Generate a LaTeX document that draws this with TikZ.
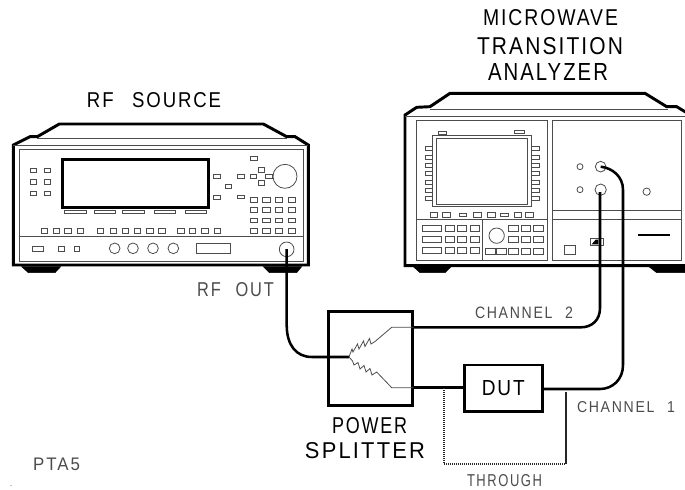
\documentclass[tikz,border=0pt]{standalone}
\usepackage{fontspec}
\usepackage{graphicx}
\setmainfont{Liberation Sans}
\newfontfamily\lblfont[LetterSpace=10]{Liberation Sans}
\newfontfamily\smallfont[LetterSpace=12]{Liberation Sans}
\definecolor{thin}{gray}{0.3}
\definecolor{lab}{gray}{0.3}
\newdimen\pxu \pxu=0.75pt
\newcommand{\fitw}[3]{\resizebox{#1\pxu}{#2\pxu}{#3}}
\tikzset{
  body/.style={draw=black,line width=2.2pt,line join=miter},
  fine/.style={draw=thin,line width=0.6pt},
  key/.style={draw=thin,line width=0.65pt,fill=white},
  cable/.style={draw=black,line width=1.9pt},
  title/.style={font=\lblfont,text=black,inner sep=0pt},
  tiny/.style={font=\smallfont,text=lab,inner sep=0pt},
}
\begin{document}
\begin{tikzpicture}[x=0.75pt,y=-0.75pt]
\useasboundingbox (0,0) rectangle (685,489);
% ---------- RF SOURCE
\begin{scope}[xscale=1/3,yscale=1/3,shift={(0,270)}]
\filldraw[black] (65,530)--(85,548)--(165,548)--(182,530)--cycle;
\filldraw[black] (790,530)--(808,548)--(890,548)--(905,530)--cycle;
\draw[body] (40,525)--(40,165)--(90,140)--(112,140)--(178,102)--(790,102)--(860,140)--(885,140)--(925,165)--(925,525)--cycle;
\draw[fine] (112,145)--(862,145);
\draw[fine] (40,165)--(925,165);
\draw[fine] (58,178) rectangle (910,515);
\draw[fine] (58,440)--(910,440);
\draw[draw=black,line width=1.9pt] (187,208) rectangle (625,352);
\foreach \y in {234,269,304}\foreach \x in {92,133}\draw[key] (\x,\y) rectangle +(18,13);
\foreach \x/\w in {192/66,283/64,367/66,463/64,556/64}\draw[key] (\x,362) rectangle +(\w,8);
\foreach \x in {123,160,194,232,292,330,367,402,440,476,533,568,605,642}\draw[key] (\x,416) rectangle +(19,14);
\foreach \y in {323,353,384,416}\foreach \x in {750,788,826,864}\draw[key] (\x,\y) rectangle +(22,14);
\foreach \x/\y/\w/\h in {640/252/20/14,675/283/20/12,640/316/20/12,712/252/20/14,712/316/22/10,750/198/22/14,750/252/20/12,775/233/18/14,797/252/20/12,775/272/18/14}\draw[key] (\x,\y) rectangle +(\w,\h);
\draw[fine] (855,259) circle (36);
\draw[key] (98,468) rectangle +(32,17);
\draw[key] (176,468) rectangle +(16,16);
\draw[key] (222,468) rectangle +(16,16);
\foreach \x in {344,399,459,520}\draw[fine] (\x,475) circle (16);
\draw[fine] (590,461) rectangle +(102,29);
\draw[fine] (860,478) circle (22);
\end{scope}
% ---------- ANALYZER
\begin{scope}[xscale=1/3,yscale=1/3,shift={(1185,270)}]
\filldraw[black] (55,530)--(75,548)--(150,548)--(168,530)--cycle;
\filldraw[black] (762,530)--(785,548)--(870,548)--(870,530)--cycle;
\draw[body] (875,527)--(30,527)--(30,75)--(65,52)--(105,50)--(165,10)--(750,10)--(815,50)--(845,50)--(875,68);
\draw[fine] (105,57)--(820,57);
\draw[fine] (30,78)--(870,78);
\draw[fine] (65,90) rectangle (458,512);
\draw[fine] (472,90) rectangle (858,512);
\draw[fine] (65,388)--(458,388);
\draw[fine] (263,388)--(263,512);
\draw[fine] (472,360)--(858,360);
\draw[fine] (472,388)--(858,388);
\foreach \y in {170,195,220,245,270,295,320}{\draw[key] (92,\y) rectangle +(26,12);\draw[key] (405,\y) rectangle +(27,12);}
\draw[fine,fill=white] (112,137) rectangle (410,350);
\draw[draw=thin,line width=1.1pt] (124,146) rectangle (398,343);
\foreach \x/\w/\y/\h in {130/24/124/9,358/30/120/9,107/20/368/14,143/22/368/14,193/22/370/10,235/24/368/14,278/24/367/15,317/22/370/10,358/22/367/15,392/22/367/15}\draw[key] (\x,\y) rectangle +(\w,\h);
\foreach \y in {407,440,473}{\draw[key] (82,\y) rectangle +(58,18);\foreach \x in {150,187,225}\draw[key] (\x,\y) rectangle +(28,18);}
\draw[fine] (305,437) circle (23);
\foreach \y in {405,440,475}\foreach \x in {340,378,415}\draw[key] (\x,\y) rectangle +(29,18);
\foreach \x in {272,305}\draw[key] (\x,475) rectangle +(30,18);
\draw[fine] (555,230) circle (9);
\draw[fine] (617,230) circle (16);
\draw[fine] (555,299) circle (9);
\draw[fine] (617,299) circle (17);
\draw[fine] (755,305) circle (11);
\draw[key] (508,465) rectangle +(32,28);
\draw[key] (587,445) rectangle +(37,20);
\fill[black] (590,463)--(610,463)--(610,449)--(602,449)--cycle;
\draw[black,line width=1.1pt] (730,435)--(825,435);
\end{scope}
% ---------- NAMED PARTS
\node[draw=black,line width=2.1pt,minimum width=84*0.75pt,minimum height=94*0.75pt,inner sep=0pt] (split) at (370.3,358.7) {};
\node[draw=black,line width=2pt,minimum width=78*0.75pt,minimum height=46.7*0.75pt,inner sep=0pt,title] (dut) at (503.3,388.3) {\fitw{43}{15}{DUT}};
\coordinate (rfout) at (286.7,249);
\coordinate (ch2) at (600,192);
\coordinate (ch1) at (600.7,166.7);
\coordinate (jn) at (349,357);
\coordinate (hi) at (391.7,327.3);
\coordinate (lo) at (391.7,387.7);
\coordinate (thA) at (444,388);
\coordinate (thB) at (565.7,392);
% cables
\draw[cable] (rfout) -- (286.7,325) .. controls (286.7,345) and (296,357) .. (312,357) -- (jn);
\draw[cable] (ch2) -- (600,308) .. controls (600,320) and (592,327.3) .. (581,327.3) -- (split.east |- hi);
\draw[cable] (ch1) .. controls (612,168) and (623,176) .. (623,190) -- (623,365) .. controls (623,380) and (612,389) .. (600,389) -- (dut.east |- 0,389);
\draw[cable] (split.east |- lo) -- (dut.west |- lo);
% splitter network
\draw[fine] (split.east |- hi) -- (hi) -- (375,341.5) -- (371,344) -- (369.5,338.5) -- (365,346.5) -- (363.5,341) -- (359,349) -- (357.5,344) -- (353,352) -- (352,349) -- (jn);
\draw[fine] (jn) -- (352.5,361) -- (354,365) -- (358,362.5) -- (360,369) -- (364,365.5) -- (366,372) -- (370,368.5) -- (372,375) -- (376.7,372) -- (lo) -- (split.east |- lo);
% through
\draw[line width=1.4pt,draw=black!85,dash pattern=on 1pt off 0.5pt] (thA) -- (444,464) -- (565.7,464) -- (thB);
% ---------- TEXT
\node[title] (t1) at (550.5,18) {\fitw{135}{16}{MICROWAVE}};
\node[title] (t2) at (550,46.5) {\fitw{146}{17}{TRANSITION}};
\node[title] (t3) at (548,71.5) {\fitw{120}{17}{ANALYZER}};
\node[title] (t4) at (154,100.5) {\fitw{134}{15}{RF\hspace{1em}SOURCE}};
\node[title] (t5) at (369.5,426) {\fitw{75}{16}{POWER}};
\node[title] (t6) at (365,450.5) {\fitw{120}{16}{SPLITTER}};
\node[tiny] (l1) at (235.5,290) {\fitw{77}{14}{RF\hspace{0.9em}OUT}};
\node[tiny] (l2) at (524,312.5) {\fitw{98}{11.5}{CHANNEL\hspace{0.9em}2}};
\node[tiny] (l3) at (626,407) {\fitw{98}{11}{CHANNEL\hspace{0.9em}1}};
\node[tiny] (l4) at (504.5,481) {\fitw{75}{12}{THROUGH}};
\node[tiny] (l5) at (56.5,464.5) {\fitw{47}{12.5}{PTA5}};
\fill[lab] (11,485.5) circle (0.5);
\end{tikzpicture}
\end{document}
